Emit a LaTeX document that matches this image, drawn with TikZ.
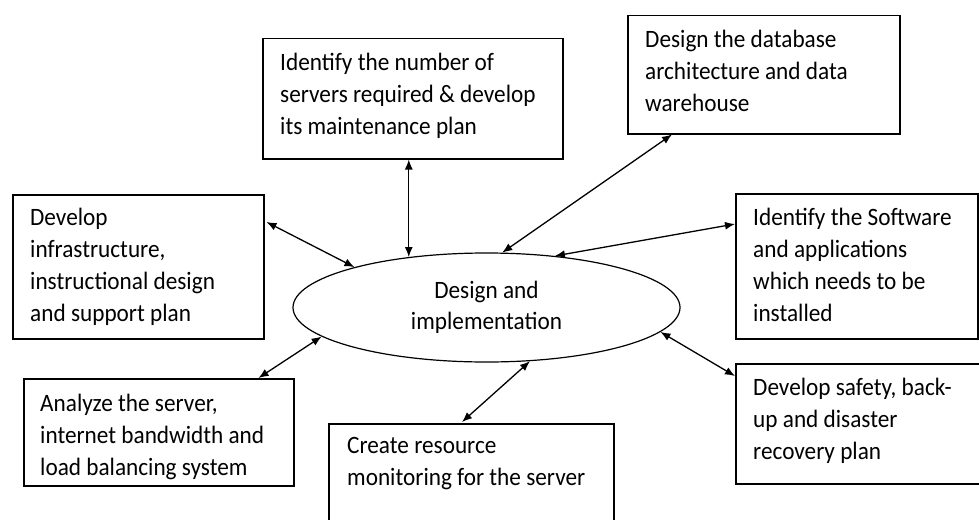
\documentclass[tikz,border=0pt]{standalone}
\usepackage{fontspec}
\setmainfont{Carlito}[FakeStretch=0.93]
\usetikzlibrary{arrows.meta,shapes.geometric,calc}
\newcommand\tstrut{\rule{0pt}{22pt}}
\begin{document}
\begin{tikzpicture}[x=1pt,y=-1pt,
  box/.style={draw, line width=1.5pt, rectangle, anchor=north west, inner sep=0pt},
  txt/.style={anchor=north west, inner sep=0pt, align=left, font=\fontsize{25}{32}\selectfont},
  link/.style={{Latex[length=10pt,width=8pt]}-{Latex[length=10pt,width=8pt]}, line width=1.3pt}]
\useasboundingbox (0,0) rectangle (979,519);
\clip (0,0) rectangle (979,519);

% central ellipse
\node[ellipse, draw, line width=1.2pt, minimum width=387pt, minimum height=109pt,
      inner sep=0pt, align=center, font=\fontsize{25}{31}\selectfont]
      (e) at (486.5,307.5) {Design and\\implementation};

% boxes
\node[box, minimum width=251pt, minimum height=144pt] (b1) at (12,194) {};
\node[box, minimum width=270pt, minimum height=107pt] (b2) at (23,378) {};
\node[box, minimum width=300pt, minimum height=120pt] (b3) at (262,38) {};
\node[box, minimum width=272pt, minimum height=118pt] (b4) at (627,15) {};
\node[box, minimum width=242pt, minimum height=145pt] (b5) at (735,193) {};
\node[box, minimum width=260pt, minimum height=120pt] (b6) at (735,363) {};
\node[box, minimum width=285pt, minimum height=110pt] (b7) at (328,423) {};

% texts
\node[txt] (t1) at ($(b1.north west)+(18,9)$) {\tstrut Develop\\infrastructure,\\instructional design\\and support plan};
\node[txt] (t2) at ($(b2.north west)+(17,11)$) {\tstrut Analyze the server,\\internet bandwidth and\\load balancing system};
\node[txt] (t3) at ($(b3.north west)+(18,10)$) {\tstrut Identify the number of\\servers required \& develop\\its maintenance plan};
\node[txt] (t4) at ($(b4.north west)+(18,10)$) {\tstrut Design the database\\architecture and data\\warehouse};
\node[txt] (t5) at ($(b5.north west)+(18,10)$) {\tstrut Identify the Software\\and applications\\which needs to be\\installed};
\node[txt] (t6) at ($(b6.north west)+(18,10)$) {\tstrut Develop safety, back-\\up and disaster\\recovery plan};
\node[txt] (t7) at ($(b7.north west)+(19,8)$) {\tstrut Create resource\\monitoring for the server};

% connectors
\coordinate (a3) at (e.147);
\draw[link] ($(b1.north east)+(2,28)$) -- (e.163.8);
\draw[link] ($(b2.north east)+(-36,0)$) -- (e.190.7);
\draw[link] (b3.south -| a3) -- (a3);
\draw[link] ($(b4.south west)+(45,0)$) -- (e.74);
\draw[link] ($(b5.north west)+(0,31)$) -- (e.37.6);
\draw[link] ($(b6.north west)+(0,13)$) -- (e.352.8);
\draw[link] ($(b7.north west)+(134,-1)$) -- (e.309.3);
\end{tikzpicture}
\end{document}
